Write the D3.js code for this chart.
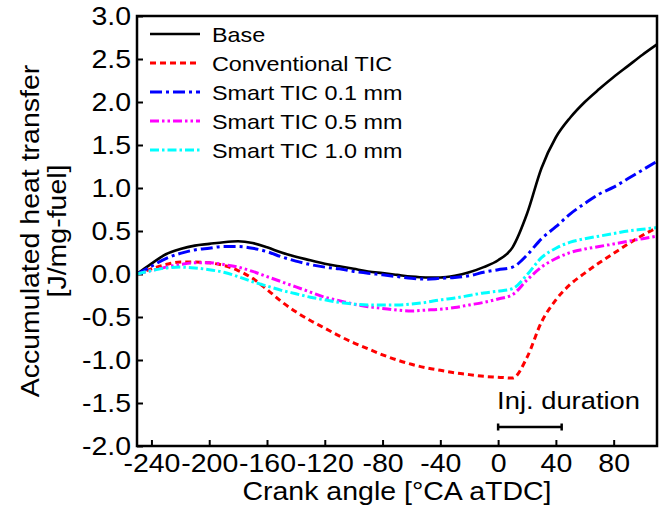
<!DOCTYPE html>
<html>
<head>
<meta charset="utf-8">
<script src="https://cdn.jsdelivr.net/npm/d3@7"></script>
<style>
    html, body { margin: 0; padding: 0; background: #fff; }
    svg { display: block; font-family: 'Liberation Sans', Arial, sans-serif; }
</style>
</head>
<body>
<div id="chart"></div>
<script>
// Crank angle grid shared by every curve [deg CA aTDC]
const crankAngle = [-250, -240, -230, -220, -210, -200, -190, -180, -170, -160,
    -150, -140, -130, -120, -110, -100, -90, -80, -70, -60,
    -50, -40, -30, -20, -10, 0, 10, 20, 30, 40,
    50, 60, 70, 80, 90, 100, 110];

// Accumulated heat transfer [J/mg-fuel]
const base = [0.00, 0.12, 0.23, 0.29, 0.33, 0.35, 0.37, 0.38, 0.36, 0.31,
    0.25, 0.20, 0.16, 0.12, 0.09, 0.06, 0.03, 0.01, -0.01, -0.03,
    -0.04, -0.04, -0.02, 0.02, 0.08, 0.16, 0.31, 0.70, 1.23, 1.59,
    1.82, 2.00, 2.15, 2.29, 2.42, 2.55, 2.67];
const conventionalTic = [0.00, 0.06, 0.11, 0.14, 0.14, 0.13, 0.10, 0.04, -0.05, -0.18,
    -0.32, -0.44, -0.54, -0.63, -0.72, -0.80, -0.87, -0.94, -1.00, -1.05,
    -1.09, -1.12, -1.15, -1.17, -1.19, -1.20, -1.21, -0.97, -0.56, -0.30,
    -0.12, 0.01, 0.13, 0.24, 0.35, 0.45, 0.54];
const smartTic01 = [0.00, 0.09, 0.18, 0.24, 0.28, 0.30, 0.32, 0.32, 0.30, 0.26,
    0.20, 0.15, 0.11, 0.08, 0.06, 0.03, 0.01, -0.01, -0.03, -0.05,
    -0.06, -0.05, -0.04, -0.02, 0.02, 0.05, 0.08, 0.22, 0.41, 0.55,
    0.70, 0.82, 0.93, 1.01, 1.11, 1.21, 1.31];
const smartTic05 = [0.00, 0.04, 0.08, 0.11, 0.13, 0.13, 0.11, 0.08, 0.03, -0.03,
    -0.09, -0.15, -0.21, -0.27, -0.31, -0.35, -0.38, -0.40, -0.42, -0.43,
    -0.42, -0.41, -0.39, -0.36, -0.33, -0.29, -0.24, -0.07, 0.08, 0.18,
    0.25, 0.29, 0.32, 0.35, 0.38, 0.41, 0.44];
const smartTic10 = [0.00, 0.04, 0.07, 0.08, 0.07, 0.05, 0.02, -0.03, -0.09, -0.14,
    -0.19, -0.23, -0.27, -0.30, -0.33, -0.35, -0.36, -0.36, -0.36, -0.35,
    -0.33, -0.30, -0.28, -0.25, -0.22, -0.20, -0.17, -0.01, 0.19, 0.30,
    0.37, 0.41, 0.44, 0.47, 0.50, 0.52, 0.54];

const seriesNames = ['Base', 'Conventional TIC', 'Smart TIC 0.1 mm', 'Smart TIC 0.5 mm', 'Smart TIC 1.0 mm'];
const xTicks = [-240, -200, -160, -120, -80, -40, 0, 40, 80];
const yTicks = [-2.0, -1.5, -1.0, -0.5, 0.0, 0.5, 1.0, 1.5, 2.0, 2.5, 3.0];
const injectionWindow = [0, 44];

(function() {
    'use strict';

    const width = 659;
    const height = 510;
    const margin = { top: 16, right: 2, bottom: 64, left: 137 };
    const stretch = 'scale(1.14,1)';

    const styles = [
        { color: '#000000', dash: null, width: 2.6 },
        { color: '#ff0000', dash: '6,4', width: 3 },
        { color: '#0000ff', dash: '12,4,3,4', width: 3 },
        { color: '#ff00ff', dash: '9,3,2.5,3,2.5,3', width: 3 },
        { color: '#00ffff', dash: '9,3,2.5,3', width: 3 }
    ];
    const values = [base, conventionalTic, smartTic01, smartTic05, smartTic10];

    const svg = d3.select('#chart')
        .append('svg')
        .attr('width', width)
        .attr('height', height);

    const x = d3.scaleLinear()
        .domain([-250, 110])
        .range([margin.left, width - margin.right]);

    const y = d3.scaleLinear()
        .domain([-2, 3])
        .range([height - margin.bottom, margin.top]);

    // axes (ticks point into the plot)
    const yAxis = svg.append('g')
        .attr('transform', `translate(${margin.left},0)`)
        .call(d3.axisLeft(y).tickValues(yTicks).tickSize(-6).tickSizeOuter(0)
            .tickFormat(d => d.toFixed(1)));
    yAxis.selectAll('text')
        .attr('x', null)
        .attr('transform', `translate(-6,0) ${stretch}`)
        .style('font-size', '25px')
        .attr('fill', '#000');

    const xAxis = svg.append('g')
        .attr('transform', `translate(0,${height - margin.bottom})`)
        .call(d3.axisBottom(x).tickValues(xTicks).tickSize(-6).tickSizeOuter(0)
            .tickPadding(8).tickFormat(d => String(d)));
    xAxis.selectAll('text')
        .attr('transform', stretch)
        .style('font-size', '25px')
        .attr('fill', '#000');

    svg.selectAll('.domain').remove();
    svg.selectAll('.tick line').attr('stroke', '#000').attr('stroke-width', 2);

    // curves
    const line = d3.line()
        .x((d, i) => x(crankAngle[i]))
        .y(d => y(d))
        .curve(d3.curveMonotoneX);

    svg.append('g')
        .selectAll('path')
        .data(values)
        .enter().append('path')
        .attr('d', d => line(d))
        .attr('fill', 'none')
        .attr('stroke', (d, i) => styles[i].color)
        .attr('stroke-width', (d, i) => styles[i].width)
        .attr('stroke-dasharray', (d, i) => styles[i].dash);

    // frame
    svg.append('rect')
        .attr('x', margin.left)
        .attr('y', margin.top)
        .attr('width', width - margin.right - margin.left)
        .attr('height', height - margin.bottom - margin.top)
        .attr('fill', 'none')
        .attr('stroke', '#000')
        .attr('stroke-width', 2.5);

    // legend
    const legend = svg.append('g');
    seriesNames.forEach((name, i) => {
        const ly = 34 + i * 29;
        legend.append('line')
            .attr('x1', 150).attr('x2', 200)
            .attr('y1', ly).attr('y2', ly)
            .attr('stroke', styles[i].color)
            .attr('stroke-width', styles[i].width)
            .attr('stroke-dasharray', styles[i].dash);
        legend.append('text')
            .attr('transform', `translate(212,${ly + 8}) ${stretch}`)
            .style('font-size', '20.5px')
            .attr('fill', '#000')
            .text(name);
    });

    // injection duration marker
    const injY = 427;
    const inj = svg.append('g').attr('stroke', '#000').attr('stroke-width', 2.5);
    inj.append('line')
        .attr('x1', x(injectionWindow[0])).attr('x2', x(injectionWindow[1]))
        .attr('y1', injY).attr('y2', injY);
    injectionWindow.forEach(v => {
        inj.append('line')
            .attr('x1', x(v)).attr('x2', x(v))
            .attr('y1', injY - 3.5).attr('y2', injY + 3.5);
    });
    svg.append('text')
        .attr('transform', `translate(${x(0) - 1},409) ${stretch}`)
        .style('font-size', '24px')
        .attr('fill', '#000')
        .text('Inj. duration');

    // axis titles
    svg.append('text')
        .attr('transform', `translate(${(margin.left + width - margin.right) / 2},500) ${stretch}`)
        .attr('text-anchor', 'middle')
        .style('font-size', '25px')
        .attr('fill', '#000')
        .text('Crank angle [°CA aTDC]');

    const yc = (margin.top + height - margin.bottom) / 2;
    svg.append('text')
        .attr('transform', `translate(39,${yc}) rotate(-90) ${stretch}`)
        .attr('text-anchor', 'middle')
        .style('font-size', '25px')
        .attr('fill', '#000')
        .text('Accumulated heat transfer');
    svg.append('text')
        .attr('transform', `translate(66,${yc}) rotate(-90) ${stretch}`)
        .attr('text-anchor', 'middle')
        .style('font-size', '25px')
        .attr('fill', '#000')
        .text('[J/mg-fuel]');
})();
</script>
</body>
</html>
